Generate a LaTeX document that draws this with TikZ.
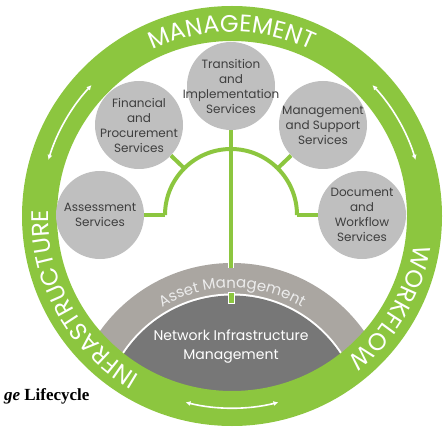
\documentclass[tikz,border=0pt]{standalone}
\usepackage{fontspec}
\setmainfont{Poppins}
\newfontfamily\capfont{Liberation Serif}
\usetikzlibrary{positioning,calc,decorations.text,arrows.meta}

\definecolor{ringgreen}{RGB}{140,198,63}
\definecolor{svcgray}{RGB}{191,191,191}
\definecolor{svctext}{RGB}{62,62,62}
\definecolor{assetgray}{RGB}{170,166,161}
\definecolor{netgray}{RGB}{119,119,119}
\definecolor{assettext}{RGB}{236,236,236}

\newcommand{\ringfont}{\fontsize{24}{24}\selectfont}
\newcommand{\assetfont}{\fontsize{15}{15}\selectfont}

\tikzset{
	svc/.style={circle, fill=svcgray, minimum size=88pt, inner sep=-14pt, align=center, text=svctext, font=\fontsize{12}{15}\selectfont},
	link/.style={draw=white, line width=0.8pt, double=ringgreen, double distance=4pt},
	ringarrow/.style={white, line width=1.6pt, {Latex[length=5pt,width=5pt]}-{Latex[length=5pt,width=5pt]}},
}

\begin{document}
\begin{tikzpicture}[x=1pt, y=1pt]
	\useasboundingbox (0,0) rectangle (446,431);
	\coordinate (C) at (232,215);
	\coordinate (B) at (232,6);
	\coordinate (hub) at (231,216);

	% bands at the bottom
	\begin{scope}
		\clip (C) circle (176pt);
		\fill[assetgray] (B) circle (162pt);
		\fill[white] (B) circle (131.5pt);
		\fill[netgray] (B) circle (129.5pt);
	\end{scope}

	% green ring
	\fill[ringgreen, even odd rule] (C) circle (210pt) (C) circle (175pt);

	\draw[ringarrow] ($(C)+(137:192pt)$) arc[start angle=137, end angle=163, radius=192pt];
	\draw[ringarrow] ($(C)+(17:192pt)$) arc[start angle=17, end angle=43, radius=192pt];
	\draw[ringarrow] ($(C)+(256:192pt)$) arc[start angle=256, end angle=284, radius=192pt];

	\path[decorate, decoration={text along path, text align=center, text color=white, text={|\ringfont|MANAGEMENT}}]
		($(C)+(150:184pt)$) arc[start angle=150, end angle=30, radius=184pt];
	\path[decorate, decoration={text along path, text align=center, text color=white, text={|\ringfont|INFRASTRUCTURE}}]
		($(C)+(269:184pt)$) arc[start angle=269, end angle=149, radius=184pt];
	\path[decorate, decoration={text along path, text align=center, text color=white, text={|\ringfont|WORKFLOW}}]
		($(C)+(30:184pt)$) arc[start angle=30, end angle=-90, radius=184pt];

	\path[decorate, decoration={text along path, text align=center, text color=assettext, text={|\assetfont|Asset Management}}]
		($(B)+(120:137pt)$) arc[start angle=120, end angle=60, radius=137pt];

	% services
	\node[svc] (trans) at (231,345) {Transition\\and\\Implementation\\Services};
	\node[svc] (fin) at (139,306) {Financial\\and\\Procurement\\Services};
	\node[svc] (mgmt) at (323,306) {Management\\and Support\\Services};
	\node[svc] (assess) at (100,216) {Assessment\\Services};
	\node[svc] (doc) at (362,216) {Document\\and\\Workflow\\Services};

	\node[align=center, text=white, font=\fontsize{14}{19}\selectfont] (net) at (231,84) {Network Infrastructure\\Management};
	\node[draw=white, fill=ringgreen, line width=0.8pt, minimum width=6pt, minimum height=11pt, inner sep=0pt] (assetLink) at (231,133.5) {};

	% connectors
	\coordinate (stemEnd) at (231,163);
	\draw[link] (trans.south) -- (stemEnd);
	\foreach \ang / \to in {180/assess, 135/fin, 45/mgmt, 0/doc} {
		\coordinate (hub-\to) at ($(hub)+(\ang:66pt)$);
		\draw[link] (hub-\to) -- (\to);
	}
	\draw[ringgreen, line width=4pt] (hub-assess) arc[start angle=180, end angle=0, radius=66pt];

	\node[anchor=base east, font=\capfont\bfseries\fontsize{17}{17}\selectfont] (caption) at (93,31) {\textit{ge} Lifecycle};
\end{tikzpicture}
\end{document}
